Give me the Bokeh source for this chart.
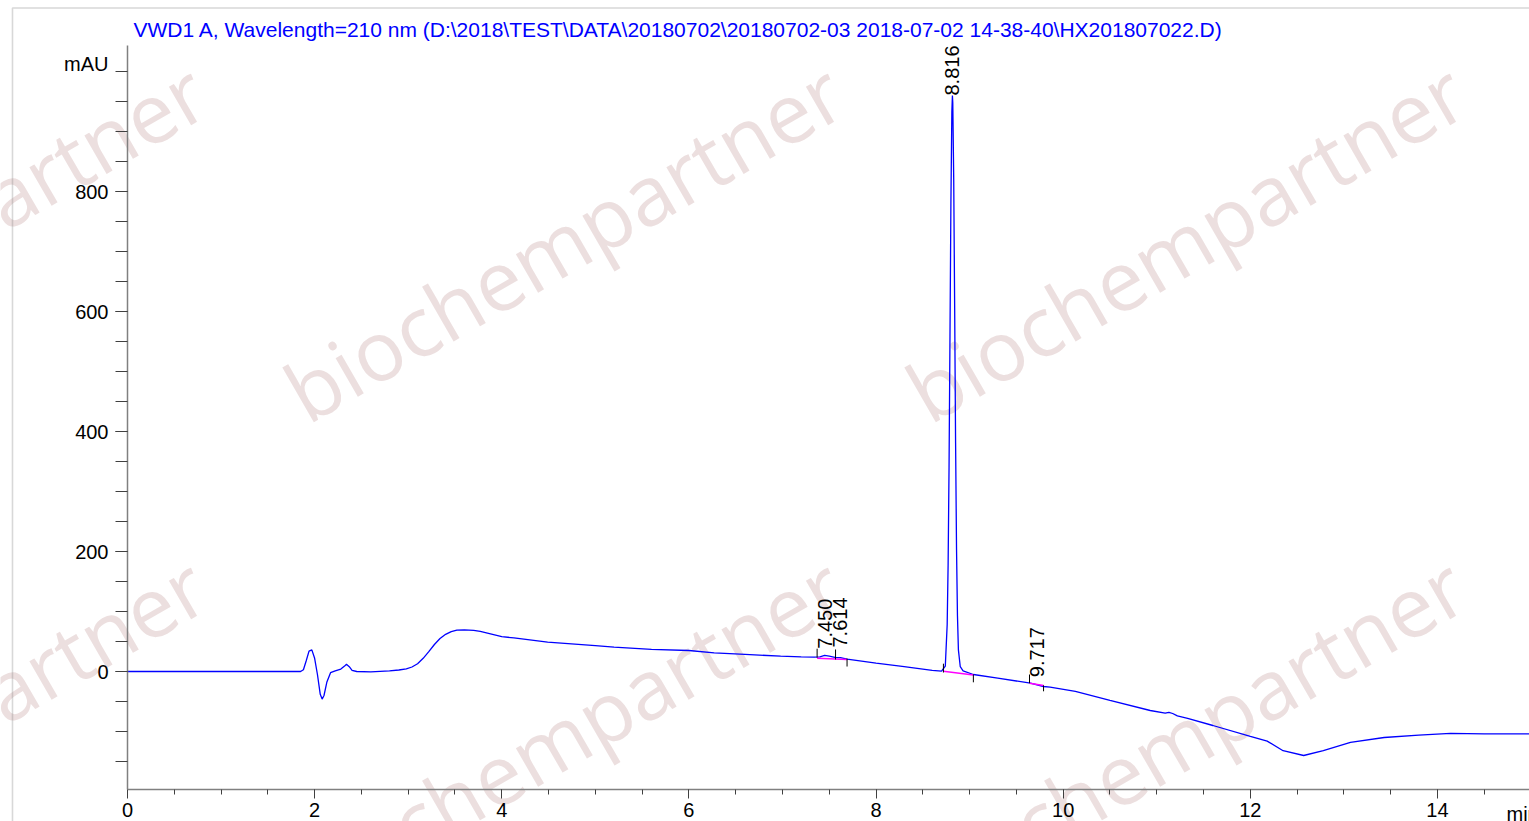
import math
from bokeh.plotting import figure
from bokeh.models import Range1d, FixedTicker, Label, BoxAnnotation
from bokeh.core.properties import value
from bokeh.embed import file_html
from bokeh.resources import INLINE

# ---------------- data ----------------
time_min = [0.0, 1.0, 1.85, 1.88, 1.91, 1.94, 1.97, 2.00, 2.03, 2.06, 2.08,
            2.10, 2.13, 2.17, 2.22, 2.28, 2.32, 2.34, 2.37, 2.40, 2.45, 2.60,
            2.80, 2.90, 2.98, 3.04, 3.10, 3.16, 3.22, 3.28, 3.34, 3.40, 3.46,
            3.52, 3.60, 3.70, 3.77, 4.00, 4.13, 4.49, 5.00, 5.20, 5.60, 6.00,
            6.27, 6.60, 6.98, 7.20, 7.34, 7.40, 7.45, 7.50, 7.56, 7.62, 7.69,
            8.00, 8.30, 8.60, 8.70, 8.74, 8.76, 8.77, 8.78, 8.79, 8.80, 8.81,
            8.816, 8.82, 8.83, 8.84, 8.85, 8.86, 8.87, 8.88, 8.90, 8.93, 9.04,
            9.30, 9.65, 9.79, 9.86, 10.13, 10.50, 10.93, 11.09, 11.13, 11.17,
            11.22, 11.33, 11.60, 12.00, 12.18, 12.35, 12.57, 12.78, 13.07,
            13.43, 13.80, 14.14, 14.50, 14.98]
signal_mAU = [0.0, 0.0, 0.0, 3.0, 18.0, 34.0, 36.0, 22.0, -5.0, -38.0, -46.0,
              -40.0, -18.0, -2.0, 1.0, 4.0, 9.0, 12.0, 8.0, 2.0, 0.0, -0.5,
              1.0, 2.5, 4.5, 7.5, 13.0, 22.0, 33.0, 45.0, 55.0, 62.0, 66.5,
              69.0, 69.5, 68.5, 67.0, 58.0, 56.0, 49.0, 43.0, 40.5, 37.0, 35.0,
              31.0, 28.5, 25.5, 24.5, 24.0, 24.5, 26.7, 25.5, 23.5, 23.0, 20.5,
              14.0, 8.0, 2.0, 0.5, 9.0, 78.0, 177.0, 340.0, 559.0, 782.0, 933.0,
              960.0, 948.0, 820.0, 607.0, 381.0, 204.0, 93.0, 36.0, 8.0, 1.0,
              -5.0, -11.0, -19.5, -25.0, -26.0, -33.0, -48.0, -65.0, -69.5,
              -68.0, -70.0, -74.0, -78.0, -90.0, -108.0, -116.0, -132.0, -140.0,
              -132.0, -118.0, -110.0, -106.0, -103.0, -104.0, -104.0]

peak_rt = [7.450, 7.614, 8.816, 9.717]
peak_label_base = [38.0, 40.0, 960.0, -9.5]

baseline_t0 = [7.37, 8.72, 9.64]
baseline_v0 = [22.0, 0.5, -19.5]
baseline_t1 = [7.69, 9.04, 9.79]
baseline_v1 = [20.0, -6.0, -23.3]

mark_t = [7.37, 7.567, 7.69, 8.72, 9.04, 9.64, 9.79]
mark_v0 = [23.0, 20.0, 8.3, -1.7, -18.0, -19.5, -33.0]
mark_v1 = [38.0, 36.7, 21.7, 13.0, -5.0, -5.0, -23.0]

x_major_ticks = [0, 2, 4, 6, 8, 10, 12, 14]
x_minor_ticks = [i * 0.5 for i in range(0, 31)]
y_major_ticks = [0, 200, 400, 600, 800]
y_minor_ticks = [i * 50 for i in range(-3, 21)]

title_text = r"VWD1 A, Wavelength=210 nm (D:\2018\TEST\DATA\20180702\20180702-03 2018-07-02 14-38-40\HX201807022.D)"
watermark_text = "biochempartner"

# ---------------- layout helpers: page pixel -> data ----------------
# axis origin (t=0, v=0) sits at page pixel (127, 671); 93.57 px per min, 0.6 px per mAU
def px_t(px):
    return (px - 127) / 93.57

def py_v(py):
    return (671 - py) / 0.6

W, H = 1529, 821
p = figure(width=W, height=H,
           x_range=Range1d(px_t(0), px_t(W)), y_range=Range1d(py_v(H), py_v(0)),
           output_backend="svg", toolbar_location=None,
           min_border_left=0, min_border_right=0, min_border_top=0, min_border_bottom=0)
p.grid.visible = False
p.outline_line_color = None
p.background_fill_color = "white"
p.border_fill_color = "white"

x_lo, x_hi = 0.0, px_t(1529)
y_lo, y_hi = py_v(789), py_v(45)

# watermarks
for ax in (-346, 291, 913):
    for ay in (397, 891):
        p.add_layout(Label(x=px_t(ax), y=py_v(ay), text=watermark_text, angle=math.radians(30.0),
                           text_font="Open Sans", text_font_size="83px", text_color="#ecdfdf",
                           text_align="left", text_baseline="alphabetic", level="underlay"))

# outer page frame
p.add_layout(BoxAnnotation(left=px_t(12), right=px_t(3000), top=py_v(7.5), bottom=py_v(3000),
                           fill_alpha=0, line_color="#7f7f7f", line_width=1.6, level="underlay"))

# axes (placed at fixed data locations)
for ax_ in (p.xaxis[0], p.yaxis[0]):
    ax_.axis_line_color = "#808080"
    ax_.axis_line_width = 1.5
    ax_.major_tick_line_color = "#404040"
    ax_.minor_tick_line_color = "#404040"
    ax_.major_tick_in = 0
    ax_.minor_tick_in = 0
    ax_.major_label_text_font = "Liberation Sans"
    ax_.major_label_text_font_size = "20px"
    ax_.major_label_text_color = "black"

p.xaxis.ticker = FixedTicker(ticks=x_major_ticks, minor_ticks=x_minor_ticks)
p.xaxis.fixed_location = y_lo
p.xaxis.bounds = (x_lo, x_hi)
p.xaxis.major_tick_out = 9
p.xaxis.minor_tick_out = 5
p.xaxis.major_label_standoff = 4

p.yaxis.ticker = FixedTicker(ticks=y_major_ticks, minor_ticks=y_minor_ticks)
p.yaxis.fixed_location = x_lo
p.yaxis.bounds = (y_lo, y_hi)
p.yaxis.major_tick_out = 12
p.yaxis.minor_tick_out = 12
p.yaxis.major_label_standoff = 7

# chromatogram trace
p.line(time_min, signal_mAU, line_color="#0000ff", line_width=1.3)

# integration baselines and marks
p.segment(x0=baseline_t0, y0=baseline_v0, x1=baseline_t1, y1=baseline_v1,
          line_color="#ff00ff", line_width=1.5)
p.segment(x0=mark_t, y0=mark_v0, x1=mark_t, y1=mark_v1, line_color="black", line_width=1)

# peak labels
p.text(x=peak_rt, y=peak_label_base, text=[f"{t:.3f}" for t in peak_rt], angle=math.pi / 2,
       text_align="left", text_baseline="middle", text_font=value("Liberation Sans"),
       text_font_size="20px", text_color="black")

# texts
p.add_layout(Label(x=px_t(133), y=py_v(28.5), text=title_text, text_font="Liberation Sans",
                   text_font_size="21px", text_color="#0000ff", text_align="left",
                   text_baseline="alphabetic"))
p.add_layout(Label(x=px_t(108), y=py_v(63), text="mAU", text_font="Liberation Sans",
                   text_font_size="20px", text_color="black", text_align="right",
                   text_baseline="alphabetic"))
p.add_layout(Label(x=px_t(1506), y=py_v(802), text="min", text_font="Liberation Sans",
                   text_font_size="20px", text_color="black", text_align="left",
                   text_baseline="top"))

open("out.html", "w").write(file_html(p, INLINE))
